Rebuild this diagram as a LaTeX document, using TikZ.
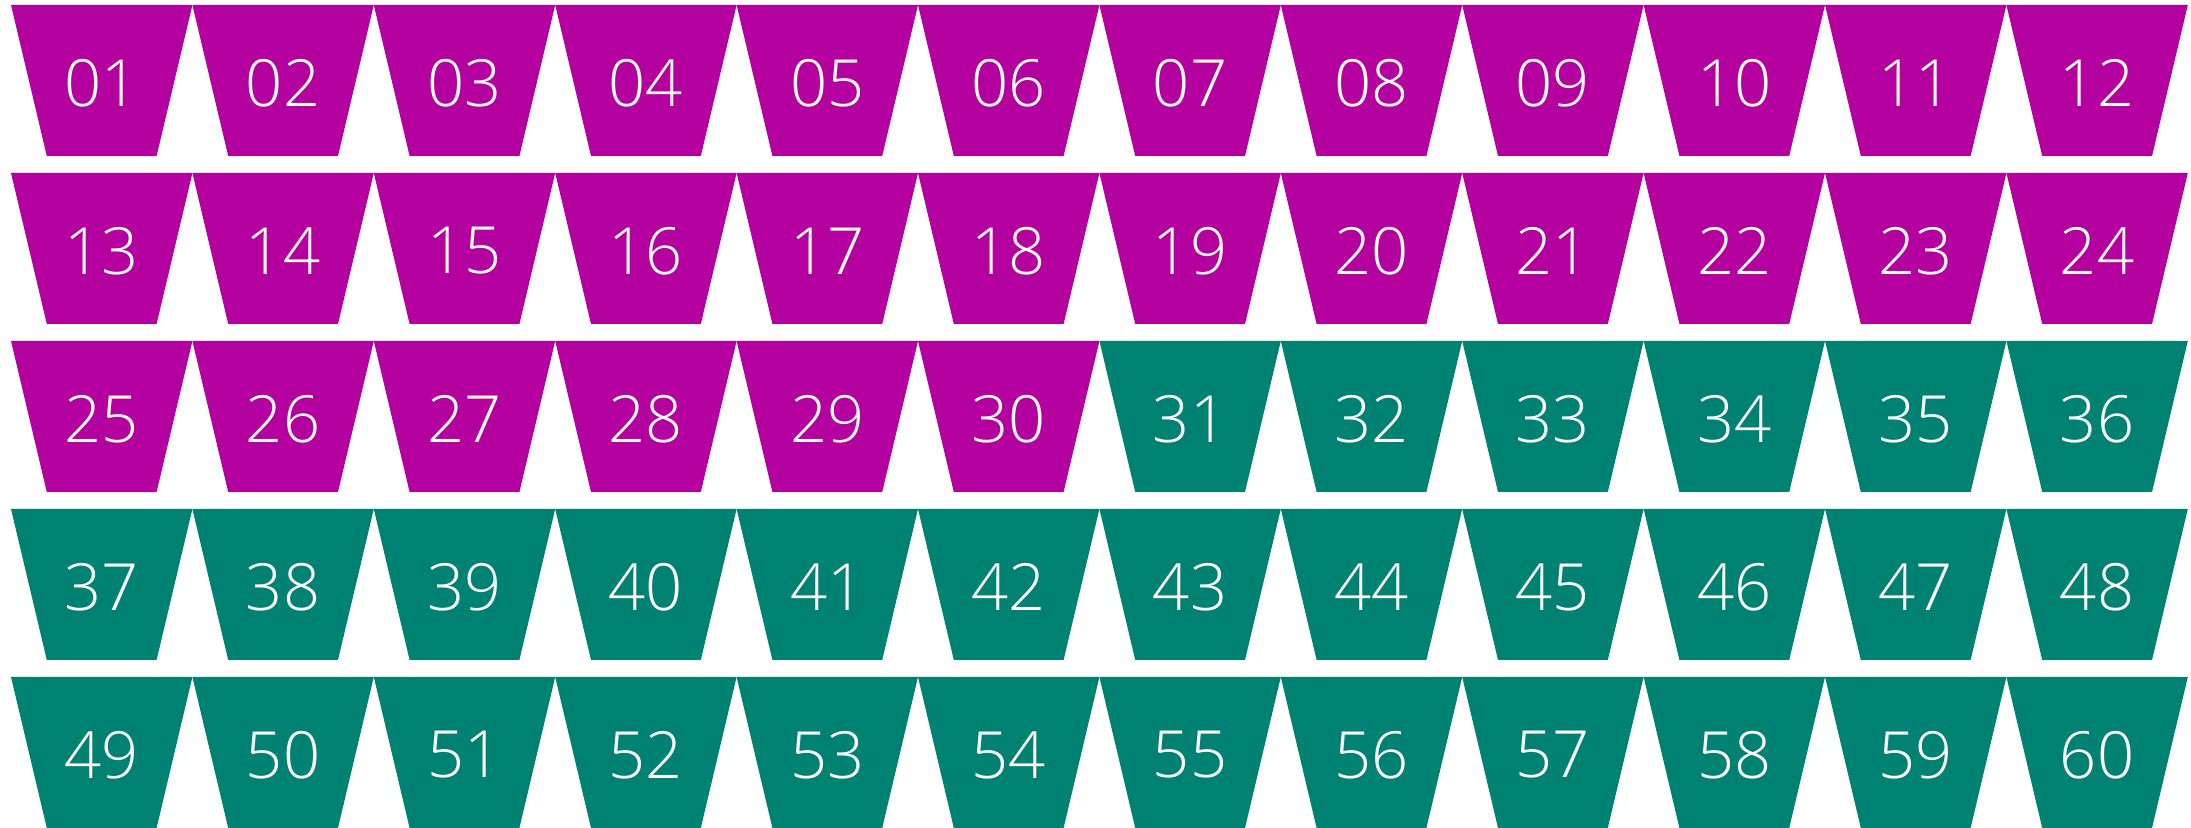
\documentclass[tikz,border=0pt]{standalone}
\usepackage{fontspec}
\newfontfamily\numfont{Open Sans Light}
\definecolor{cellpink}{HTML}{B4009E}
\definecolor{cellteal}{HTML}{008272}

\begin{document}
\begin{tikzpicture}[x=0.01cm, y=-0.01cm,
  num/.style={text=white, inner sep=0pt, font=\numfont\fontsize{18.5}{20}\selectfont}]
  \useasboundingbox (0,0) rectangle (2191,828);

  % 5 rows of 12 cups, pink up to 30, teal after
  \foreach \r in {0,...,4} {
    \foreach \c in {1,...,12} {
      \pgfmathtruncatemacro{\n}{12*\r+\c}
      \pgfmathsetmacro{\xl}{11+181.4*(\c-1)}
      \pgfmathsetmacro{\yt}{5+168*\r}
      \ifnum\n>30 \def\cellcol{cellteal}\else\def\cellcol{cellpink}\fi
      \fill[\cellcol] (\xl,\yt) -- ++(181.4,0) -- ++(-35.8,151) -- ++(-109.8,0) -- cycle;
      \node[num] (cell\n) at (\xl+90.7,\yt+78) {\ifnum\n<10 0\fi\n};
    }
  }
\end{tikzpicture}
\end{document}
